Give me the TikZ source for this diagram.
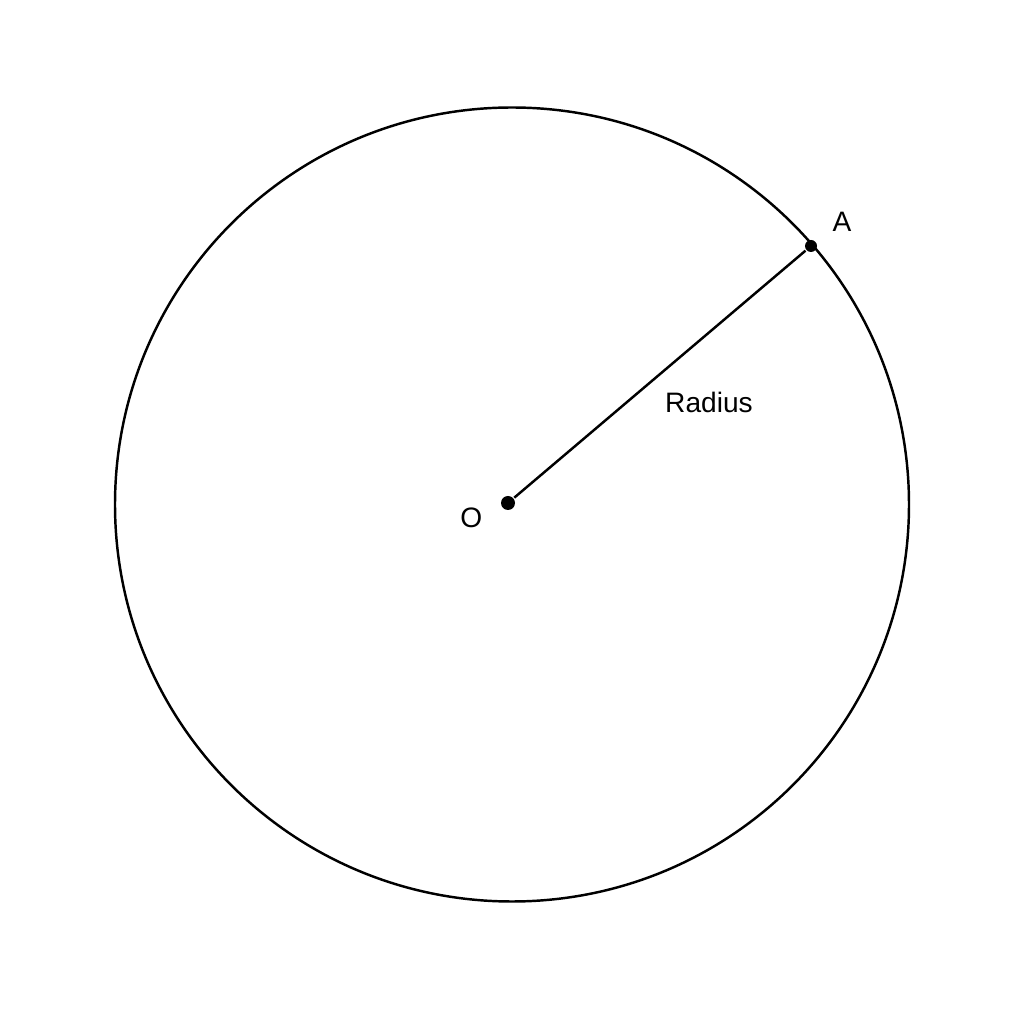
\documentclass[tikz,border=0pt]{standalone}
\usepackage{fontspec}
\setmainfont{Liberation Sans}
\usetikzlibrary{positioning,calc}
\tikzset{
point/.style={circle,fill=black,inner sep=0pt},
label/.style={font=\fontsize{8}{9.6}\selectfont,inner sep=1pt}
}

\begin{document}
\begin{tikzpicture}[line width=0.7pt]
\useasboundingbox (0,0) rectangle (10.24,10.24);
%%% cercle
\coordinate (c) at (5.12,5.195);
\draw (c) circle (3.97);
%%% points
\node[point,minimum size=1.4mm] (O) at (5.08,5.21) {};
\node[point,minimum size=1.2mm] (A) at (8.11,7.78) {};
\draw (O) -- (A);
%%% textes
\node[label,below left=0.0 and 0.21] (lO) at (O.center) {O};
\node[label,above right=0.1 and 0.17] (lA) at (A.center) {A};
\node[label] (lr) at (7.09,6.22) {Radius};
\end{tikzpicture}
\end{document}
